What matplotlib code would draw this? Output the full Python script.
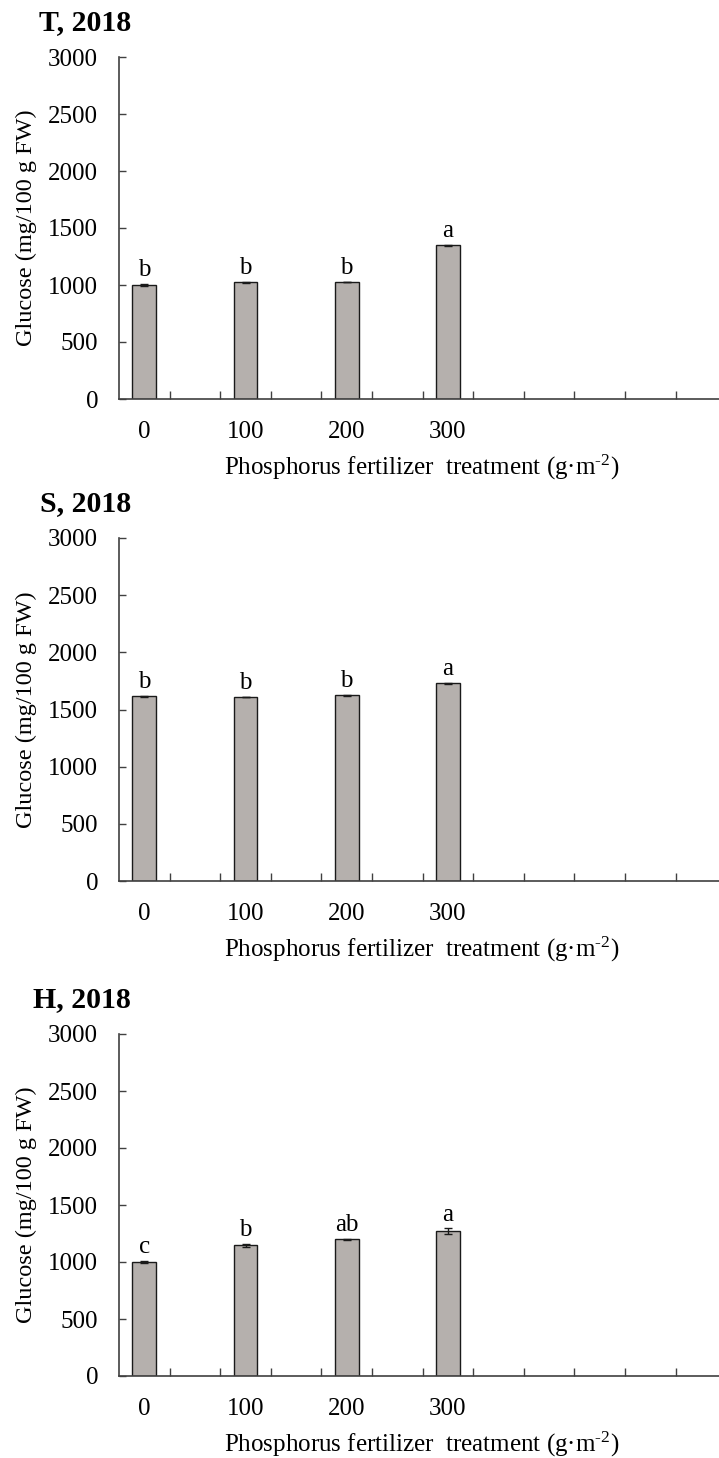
import matplotlib
matplotlib.use("Agg")
import matplotlib.pyplot as plt

plt.rcParams['font.family'] = ['Liberation Serif', 'DejaVu Serif']
plt.rcParams['mathtext.fontset'] = 'custom'
plt.rcParams['mathtext.rm'] = 'Liberation Serif'
plt.rcParams['mathtext.it'] = 'Liberation Serif'

# data
treatments = ["0", "100", "200", "300"]
panels = ["T, 2018", "S, 2018", "H, 2018"]
glucose_T = [1000, 1025, 1027, 1348]
err_T = [10, 5, 3, 6]
letters_T = ["b", "b", "b", "a"]
glucose_S = [1615, 1608, 1625, 1730]
err_S = [4, 3, 4, 5]
letters_S = ["b", "b", "b", "a"]
glucose_H = [1000, 1146, 1199, 1269]
err_H = [12, 12, 7, 26]
letters_H = ["c", "b", "ab", "a"]
yticks = [0, 500, 1000, 1500, 2000, 2500, 3000]

W, H = 719, 1458
fig = plt.figure(figsize=(W / 100, H / 100), dpi=100)

# pixel layout of each panel: (axis top, axis bottom)
rows = [(57, 399), (538, 881), (1034, 1376)]
left = 119
unit = 50.6
xcats = [0.5, 2.5, 4.5, 6.5]
data = [(glucose_T, err_T, letters_T), (glucose_S, err_S, letters_S), (glucose_H, err_H, letters_H)]
axcol = '#404040'

for (top, bot), title, (vals, errs, lets) in zip(rows, panels, data):
    ax = fig.add_axes([left / W, 1 - bot / H, 12 * unit / W, (bot - top) / H])
    ax.bar(xcats, vals, width=0.47, color='#b5b0ad', edgecolor='#1a1a1a', linewidth=1.0, zorder=2)
    ax.errorbar(xcats, vals, yerr=errs, fmt='none', ecolor='#1a1a1a', elinewidth=1.0, capsize=3, capthick=1.0, zorder=3)
    for x, v, e, l in zip(xcats, vals, errs, lets):
        ax.annotate(l, (x, v + e), xytext=(0, 2), textcoords='offset points',
                    ha='center', va='bottom', fontsize=18)
    ax.set_xlim(0, 12)
    ax.set_ylim(0, 3000)
    ax.set_yticks(yticks)
    ax.set_xticks(range(1, 13))
    ax.set_xticklabels([])
    ax.set_xticks(xcats, treatments, minor=True)
    ax.tick_params(axis='x', which='major', direction='in', length=5.5, width=1.0, color=axcol)
    ax.tick_params(axis='x', which='minor', length=0, pad=16, labelsize=18)
    ax.tick_params(axis='y', direction='in', length=5, width=1.0, color=axcol, pad=15, labelsize=18)
    for s in ['top', 'right']:
        ax.spines[s].set_visible(False)
    for s in ['left', 'bottom']:
        ax.spines[s].set_color(axcol)
        ax.spines[s].set_linewidth(1.2)
    ax.patch.set_alpha(0)

    fig.text(131 / W, 1 - (top - 34) / H, title, ha='right', va='center', fontsize=21.5, fontweight='bold')
    fig.text(26 / W, 1 - (top + bot) / 2 / H, "Glucose (mg/100 g FW)", rotation=90,
             ha='center', va='center', fontsize=17.5)
    fig.text(422 / W, 1 - (bot + 68) / H, "Phosphorus fertilizer  treatment (g\u00b7m$^{\\mathregular{\u20102}}$)",
             ha='center', va='center', fontsize=18)

fig.savefig("out.png", dpi=100)
